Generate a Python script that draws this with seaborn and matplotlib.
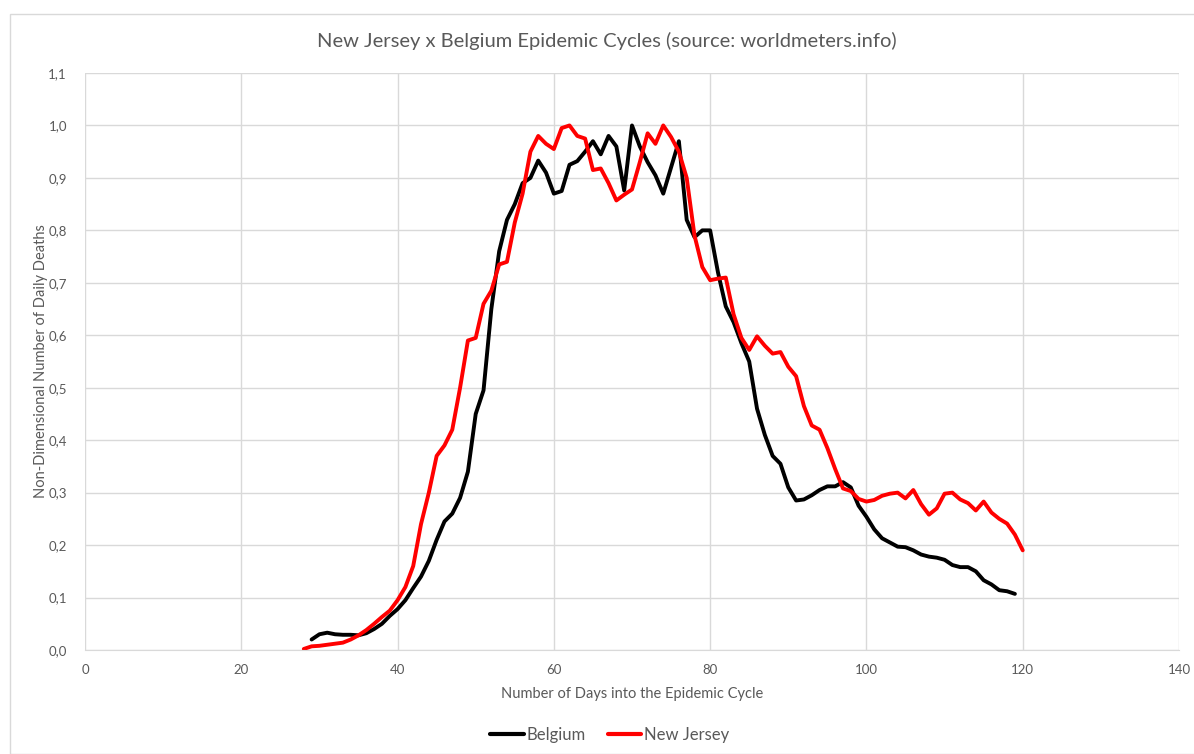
import numpy as np
import pandas as pd
import matplotlib
matplotlib.use("Agg")
import matplotlib.pyplot as plt
from matplotlib.ticker import FuncFormatter, MultipleLocator
from matplotlib.patches import Rectangle
import seaborn as sns

# dados (dias do ciclo epidêmico, mortes diárias normalizadas)
belgium_days = list(range(29, 120))
belgium_vals = [
    0.02, 0.03, 0.033, 0.03, 0.029, 0.029, 0.028, 0.032, 0.04, 0.05,
    0.065, 0.078, 0.095, 0.118, 0.14, 0.17, 0.21, 0.245, 0.26, 0.29,
    0.34, 0.45, 0.495, 0.65, 0.76, 0.82, 0.85, 0.89, 0.9, 0.933,
    0.91, 0.87, 0.875, 0.925, 0.932, 0.95, 0.97, 0.945, 0.98, 0.96,
    0.876, 1.0, 0.96, 0.93, 0.905, 0.87, 0.92, 0.97, 0.82, 0.787,
    0.8, 0.8, 0.72, 0.655, 0.625, 0.585, 0.55, 0.46, 0.41, 0.37,
    0.355, 0.31, 0.285, 0.287, 0.295, 0.305, 0.312, 0.312, 0.32, 0.31,
    0.275, 0.254, 0.23, 0.213, 0.205, 0.197, 0.196, 0.19, 0.182, 0.178,
    0.176, 0.172, 0.162, 0.158, 0.158, 0.15, 0.133, 0.125, 0.114, 0.112,
    0.107,
]

nj_days = list(range(28, 121))
nj_vals = [
    0.002, 0.007, 0.008, 0.01, 0.012, 0.014, 0.02, 0.028, 0.038, 0.05,
    0.063, 0.075, 0.095, 0.12, 0.16, 0.24, 0.3, 0.37, 0.39, 0.42,
    0.5, 0.59, 0.595, 0.66, 0.685, 0.735, 0.74, 0.815, 0.87, 0.95,
    0.98, 0.965, 0.955, 0.995, 1.0, 0.98, 0.975, 0.915, 0.918, 0.89,
    0.857, 0.868, 0.878, 0.93, 0.985, 0.965, 1.0, 0.978, 0.95, 0.9,
    0.79, 0.73, 0.705, 0.708, 0.71, 0.64, 0.595, 0.572, 0.598, 0.58,
    0.565, 0.568, 0.54, 0.522, 0.465, 0.428, 0.42, 0.385, 0.345, 0.308,
    0.303, 0.288, 0.283, 0.286, 0.294, 0.298, 0.3, 0.289, 0.305, 0.278,
    0.258, 0.27, 0.298, 0.3, 0.287, 0.28, 0.266, 0.283, 0.262, 0.25,
    0.241, 0.22, 0.19,
]

df = pd.concat([
    pd.DataFrame({"day": belgium_days, "value": belgium_vals, "serie": "Belgium"}),
    pd.DataFrame({"day": nj_days, "value": nj_vals, "serie": "New Jersey"}),
], ignore_index=True)

sns.set_style("white")
plt.rcParams["font.family"] = ["Lato", "DejaVu Sans"]
plt.rcParams["lines.solid_joinstyle"] = "round"
plt.rcParams["lines.solid_capstyle"] = "round"
gray = "#595959"

fig = plt.figure(figsize=(11.94, 7.54), dpi=100)
ax = fig.add_axes([85 / 1194, 1 - 650 / 754, (1179 - 85) / 1194, (650 - 73) / 754])

sns.lineplot(data=df, x="day", y="value", hue="serie",
             palette={"Belgium": "black", "New Jersey": "#ff0000"},
             linewidth=2.8, ax=ax, legend=False)

ax.set_xlim(0, 140)
ax.set_ylim(0, 1.1)
ax.xaxis.set_major_locator(MultipleLocator(20))
ax.yaxis.set_major_locator(MultipleLocator(0.1))
ax.yaxis.set_major_formatter(FuncFormatter(lambda v, p: f"{v:.1f}".replace(".", ",")))
ax.grid(True, color="#d9d9d9", linewidth=1)
for s in ["top", "right", "left"]:
    ax.spines[s].set_visible(False)
ax.spines["bottom"].set_color("#d9d9d9")
ax.tick_params(axis="both", length=0, labelsize=9.5, labelcolor=gray)
ax.tick_params(axis="x", pad=10)
ax.tick_params(axis="y", pad=13)

ax.set_xlabel("Number of Days into the Epidemic Cycle", fontsize=10.5, color=gray, labelpad=8)
ax.set_ylabel("Non-Dimensional Number of Daily Deaths", fontsize=10.5, color=gray)
ax.yaxis.set_label_coords(-(85 - 48) / 1094, 0.5)

fig.text(607 / 1194, 1 - 41 / 754, "New Jersey x Belgium Epidemic Cycles (source: worldmeters.info)",
         ha="center", va="center", fontsize=14.5, color=gray)

# legenda embaixo
handles = [plt.Line2D([], [], color="black", linewidth=3),
           plt.Line2D([], [], color="#ff0000", linewidth=3)]
fig.legend(handles, ["Belgium", "New Jersey"], loc="center", bbox_to_anchor=(610 / 1194, 1 - 735 / 754),
           ncol=2, frameon=False, fontsize=12, labelcolor=gray, handlelength=2.0,
           handletextpad=0.2, columnspacing=1.3)

# borda da área do gráfico
fig.patches.append(Rectangle((10 / 1194, 0), 1.0, 1 - 14 / 754, transform=fig.transFigure,
                             fill=False, edgecolor="#d9d9d9", linewidth=1))

fig.savefig("out.png", dpi=100, facecolor="white")
